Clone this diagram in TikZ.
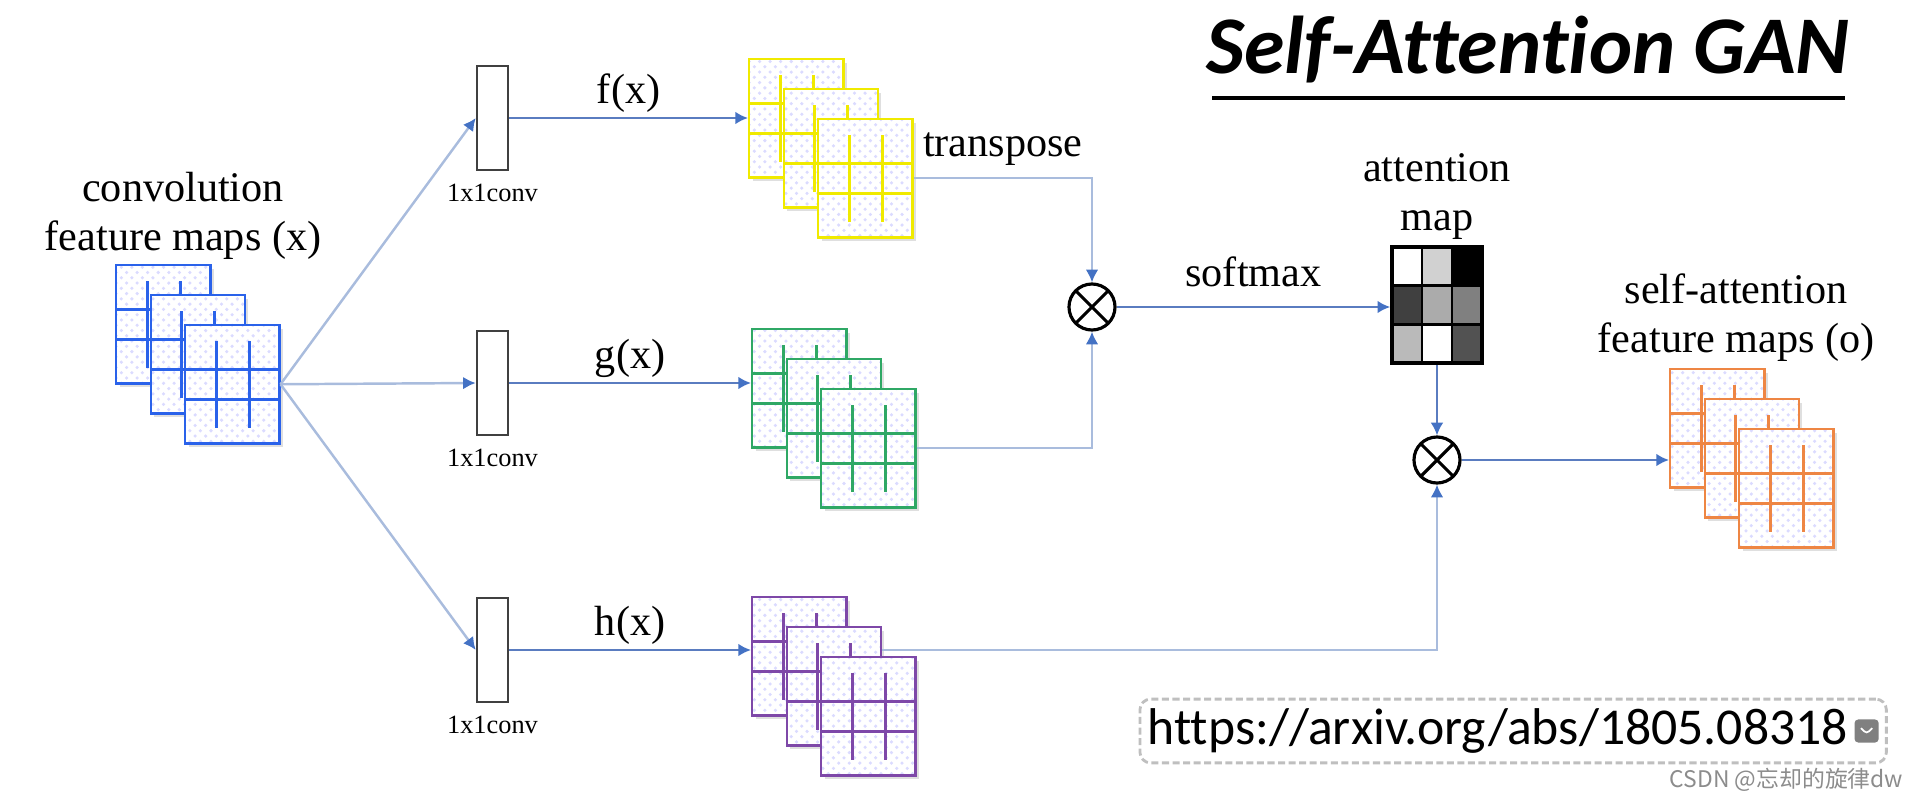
\documentclass[tikz,border=0pt]{standalone}
\usepackage{fontspec}
\setmainfont{Liberation Serif}
\newfontfamily\calfont[Ligatures=NoCommon]{Carlito}
\newfontfamily\cjkfont{Noto Sans CJK SC}
\usetikzlibrary{arrows.meta, patterns, shadows, fit, positioning}

\definecolor{mapblue}{HTML}{2A62EA}
\definecolor{mapyellow}{HTML}{F0EA00}
\definecolor{mapgreen}{HTML}{2FA865}
\definecolor{mappurple}{HTML}{7E48A8}
\definecolor{maporange}{HTML}{EE8644}
\definecolor{linkblue}{HTML}{5A7CC0}
\definecolor{feedblue}{HTML}{A9BCDD}
\definecolor{tipblue}{HTML}{4472C4}

\begin{document}
\begin{tikzpicture}[x=0.01cm, y=-0.01cm,
  lbl/.style={font=\fontsize{12}{14}\selectfont, align=center},
  small/.style={font=\fontsize{7.5}{9}\selectfont},
  sheet/.style={rectangle, draw=#1, line width=0.7pt, inner sep=0pt, minimum width=0.94cm, minimum height=1.18cm, anchor=north west,
    drop shadow={shadow xshift=1pt, shadow yshift=-1pt, opacity=.25},
    preaction={fill=white}, pattern=crosshatch dots, pattern color=blue!14,
    path picture={\draw[#1, line width=0.9pt]
      (path picture bounding box.north west) ++(0,44) -- ++(94,0)
      (path picture bounding box.north west) ++(0,74) -- ++(94,0)
      (path picture bounding box.north west) ++(31,16) -- ++(0,87)
      (path picture bounding box.north west) ++(64,16) -- ++(0,87);}},
  conv/.style={rectangle, draw=black!75, line width=0.7pt, fill=white, minimum width=0.31cm, minimum height=1.04cm, inner sep=0pt},
  otimes/.style={circle, draw, line width=0.9pt, minimum size=0.46cm, inner sep=0pt,
    path picture={\draw[line width=0.9pt] (path picture bounding box.north west) -- (path picture bounding box.south east)
      (path picture bounding box.north east) -- (path picture bounding box.south west);}},
  attmap/.style={rectangle, draw, line width=1pt, minimum width=0.9cm, minimum height=1.16cm, inner sep=0pt,
    path picture={
      \foreach \v [count=\i from 0] in {0,18,100,75,33,50,27,0,68}
        \fill[black!\v] (path picture bounding box.north west) ++({30*mod(\i,3)},{38.67*int(\i/3)}) rectangle ++(30,38.67);
      \draw[line width=0.8pt]
        (path picture bounding box.north west) ++(30,0) -- ++(0,116)
        (path picture bounding box.north west) ++(60,0) -- ++(0,116)
        (path picture bounding box.north west) ++(0,38.67) -- ++(90,0)
        (path picture bounding box.north west) ++(0,77.33) -- ++(90,0);}},
  feed/.style={draw=feedblue, line width=0.7pt, -{Latex[length=3.6pt, width=3.6pt, color=tipblue]}},
  link/.style={draw=linkblue, line width=0.6pt, -{Latex[length=3.6pt, width=3.6pt, color=tipblue]}},
  pastebtn/.style={rectangle, rounded corners=1pt, fill=black!50, minimum width=0.24cm, minimum height=0.23cm, inner sep=0pt,
    path picture={\draw[white, line width=0.5pt] ([xshift=-1.6pt, yshift=0.8pt]path picture bounding box.center)
      -- ([yshift=-0.8pt]path picture bounding box.center) -- ([xshift=1.6pt, yshift=0.8pt]path picture bounding box.center);}}]
	\useasboundingbox (0,0) rectangle (1920,800);

	% title
	\node[font=\calfont\bfseries\itshape\fontsize{23.3}{28}\selectfont, inner sep=0pt] (title) at (1528,50) {Self-Attention GAN};
	\coordinate (ul1) at (1212,98);
	\coordinate (ul2) at (1845,98);
	\draw[line width=1pt] (ul1) -- (ul2);

	% feature map stacks
	\foreach \nm/\col/\x/\y in {cv/mapblue/115/264, f/mapyellow/748/58, g/mapgreen/751/328, h/mappurple/751/596, o/maporange/1669/368}
		\foreach \i in {0,1,2}
			\node[sheet=\col] (\nm\i) at ({\x+34.5*\i}, {\y+30*\i}) {};

	\node[lbl] (cvlbl) at (183,216) {convolution\\feature maps (x)};
	\node[lbl] (olbl) at (1736,318) {self-attention\\feature maps (o)};

	% 1x1 convolutions
	\node[conv, label={[small]below:1x1conv}] (kf) at (492.5,118) {};
	\node[conv, label={[small]below:1x1conv}] (kg) at (492.5,383) {};
	\node[conv, label={[small]below:1x1conv}] (kh) at (492.5,650) {};

	% attention
	\node[otimes] (m1) at (1092,307) {};
	\node[attmap] (attn) at (1437,305) {};
	\node[lbl, above=-2pt of attn] (attlbl) {attention\\map};
	\node[otimes] (m2) at (1437,460) {};

	% edges
	\draw[feed] (cv2.east) -- (kf.west);
	\draw[feed] (cv2.east) -- (kg.west);
	\draw[feed] (cv2.east) -- (kh.west);
	\draw[link] (kf.east) -- node[lbl, above=-2pt] {f(x)} (kf.east -| f0.west);
	\draw[link] (kg.east) -- node[lbl, above=-2pt] {g(x)} (kg.east -| g0.west);
	\draw[link] (kh.east) -- node[lbl, above=-2pt] {h(x)} (kh.east -| h0.west);
	\draw[feed] (f2.east) -| node[lbl, pos=.25, above] {transpose} (m1.north);
	\draw[feed] (g2.east) -| (m1.south);
	\draw[link] (m1.east) -- node[lbl, above=2pt] {softmax} (m1.east -| attn.west);
	\draw[link] (attn.south) -- (m2.north);
	\draw[feed] (h1.east |- kh.east) -| (m2.south);
	\draw[link] (m2.east) -- (m2.east -| o0.west);

	% link box
	\node[font=\calfont\fontsize{14.7}{17}\selectfont, inner sep=0pt, anchor=west] (url) at (1147,731) {https://arxiv.org/abs/1805.08318};
	\node[pastebtn, right=1.5pt of url] (btn) {};
	\node[draw=black!25, line width=0.8pt, dash pattern=on 2pt off 1pt, rounded corners=3pt, inner xsep=2pt, inner ysep=2.5pt, fit=(url)(btn)] (urlbox) {};
	\node[font=\cjkfont\fontsize{6.5}{8}\selectfont, text=black!45, anchor=east, inner sep=0pt] (wm) at (1904,780) {CSDN @忘却的旋律dw};
\end{tikzpicture}
\end{document}
